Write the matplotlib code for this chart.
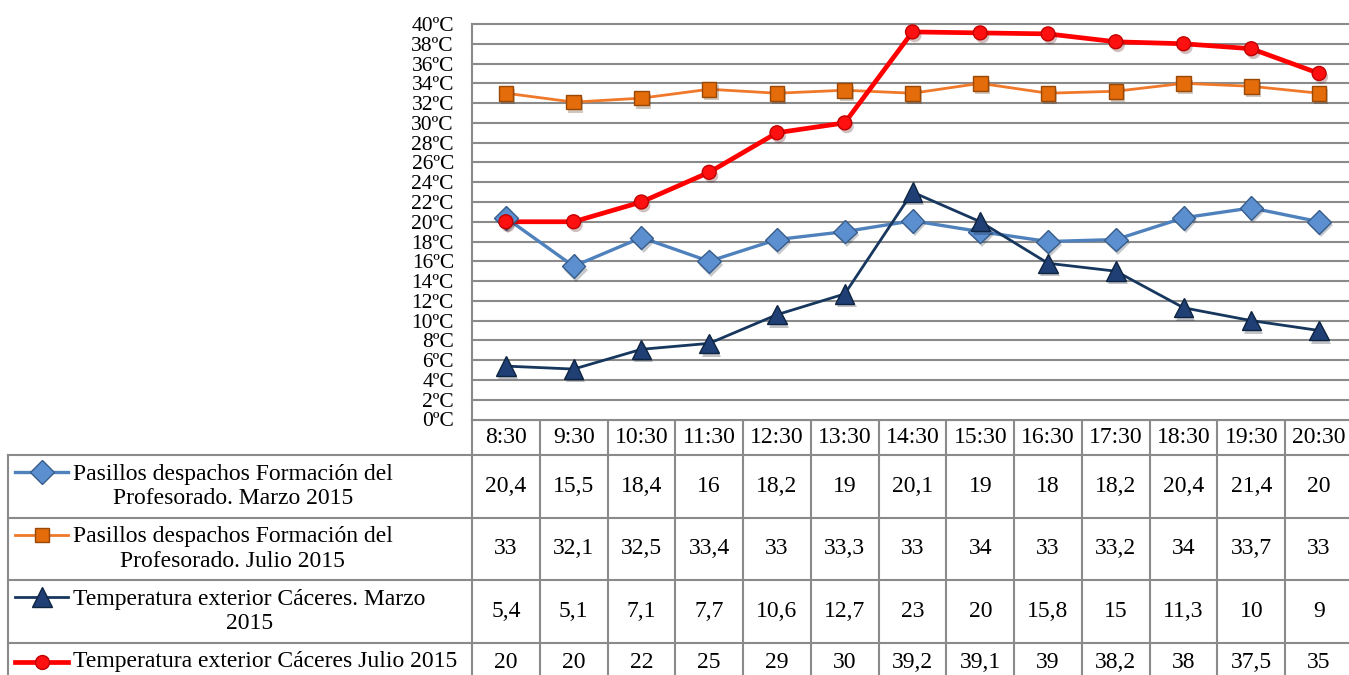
import matplotlib.pyplot as plt
import matplotlib.patheffects as pe
import numpy as np

plt.rcParams['font.family'] = ['Liberation Serif', 'DejaVu Serif']

horas = ["8:30", "9:30", "10:30", "11:30", "12:30", "13:30", "14:30",
         "15:30", "16:30", "17:30", "18:30", "19:30", "20:30"]

pasillos_marzo = [20.4, 15.5, 18.4, 16, 18.2, 19, 20.1, 19, 18, 18.2, 20.4, 21.4, 20]
pasillos_julio = [33, 32.1, 32.5, 33.4, 33, 33.3, 33, 34, 33, 33.2, 34, 33.7, 33]
exterior_marzo = [5.4, 5.1, 7.1, 7.7, 10.6, 12.7, 23, 20, 15.8, 15, 11.3, 10, 9]
exterior_julio = [20, 20, 22, 25, 29, 30, 39.2, 39.1, 39, 38.2, 38, 37.5, 35]

etiquetas = ["Pasillos despachos Formación del\nProfesorado. Marzo 2015",
             "Pasillos despachos Formación del\nProfesorado. Julio 2015",
             "Temperatura exterior Cáceres. Marzo\n2015",
             "Temperatura exterior Cáceres Julio 2015"]

yticks = list(range(0, 41, 2))

# line colour, marker, marker size, face, edge, line width
estilos = [
    ("#4f81bd", "D", 12, "#5b8fd0", "#385d8a", 2.4),
    ("#f0782a", "s", 10.5, "#e46c0a", "#984807", 2.0),
    ("#17375e", "^", 14, "#1f3f75", "#0f2440", 2.0),
    ("#ff0000", "o", 10, "#ff1010", "#c00000", 3.4),
]
series = [pasillos_marzo, pasillos_julio, exterior_marzo, exterior_julio]

W, H = 1349, 675
fig = plt.figure(figsize=(W / 100, H / 100), dpi=100)

# plot area in pixels
px0, px1 = 472, 1353
py_top, py_bot = 24, 419.5
ax = fig.add_axes([px0 / W, (H - py_bot) / H, (px1 - px0) / W, (py_bot - py_top) / H])
ax.set_xlim(-0.5, len(horas) - 0.5)
ax.set_ylim(0, 40)

grid_col = "#8a8a8a"
for t in yticks:
    ax.axhline(t, color=grid_col, lw=1.5, zorder=1, clip_on=False)
for s in ["top", "right", "bottom"]:
    ax.spines[s].set_visible(False)
ax.spines["left"].set_color(grid_col)
ax.spines["left"].set_linewidth(1.5)
ax.set_xticks([])
ax.set_yticks(yticks)
ax.set_yticklabels([f"{t}ºC" for t in yticks], fontsize=15.5)
ax.tick_params(axis="y", length=0, pad=13)

sombra = [pe.SimplePatchShadow(offset=(1.5, -2.5), alpha=0.25), pe.Normal()]
x = np.arange(len(horas))
for vals, (lc, mk, ms, fc, ec, lw) in zip(series, estilos):
    ax.plot(x, vals, color=lc, lw=lw, zorder=3, clip_on=False)
    ax.plot(x, vals, ls="none", marker=mk, ms=ms, mfc=fc, mec=ec, mew=1,
            zorder=4, clip_on=False, path_effects=sombra)

# data table below the plot, in pixel coordinates
tab = fig.add_axes([0, 0, 1, 1], zorder=-1)
tab.set_xlim(0, W)
tab.set_ylim(H, 0)
tab.axis("off")

col_w = (px1 - px0) / len(horas)
filas = [455, 518, 580, 643, 681]
tx0 = 8
fs = 17

tab.plot([px0, W], [420, 420], color=grid_col, lw=1.5)
for y in filas[:-1]:
    tab.plot([tx0, W], [y, y], color=grid_col, lw=1.5)
tab.plot([tx0, tx0], [filas[0], H], color=grid_col, lw=1.5)
for i in range(len(horas) + 1):
    xc = px0 + i * col_w
    tab.plot([xc, xc], [420, H], color=grid_col, lw=1.5)

for i, h in enumerate(horas):
    tab.text(px0 + (i + 0.5) * col_w, 437.5, h, ha="center", va="center", fontsize=fs)

for r, (vals, lab, (lc, mk, ms, fc, ec, lw)) in enumerate(zip(series, etiquetas, estilos)):
    ytop, ybot = filas[r], filas[r + 1]
    yc = (ytop + ybot) / 2
    nlines = lab.count("\n") + 1
    ykey = ytop + 17 if nlines > 1 else yc
    tab.plot([15, 68], [ykey, ykey], color=lc, lw=lw)
    tab.plot([41.5], [ykey], marker=mk, ms=ms, mfc=fc, mec=ec, mew=1)
    tab.text(73, yc, lab, ha="left", va="center", multialignment="center",
             fontsize=fs, linespacing=1.2)
    for i, v in enumerate(vals):
        txt = f"{v:g}".replace(".", ",")
        tab.text(px0 + (i + 0.5) * col_w, yc, txt, ha="center", va="center", fontsize=fs)

fig.savefig("out.png", dpi=100)
